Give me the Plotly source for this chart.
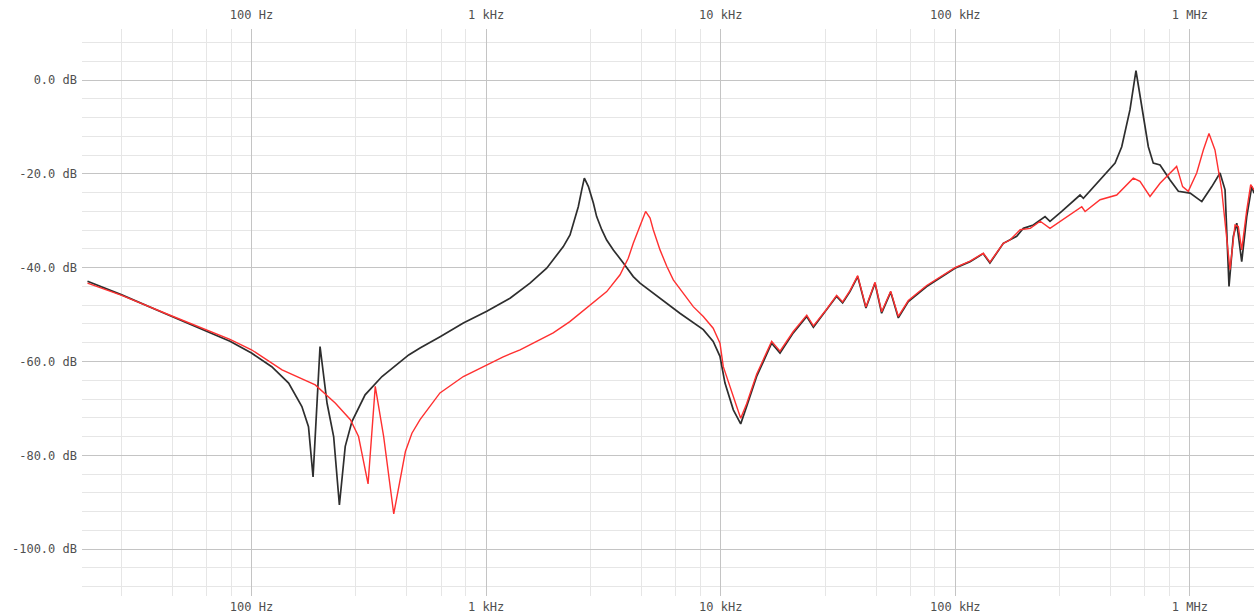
import math
import plotly.graph_objects as go

# ---- data (frequency in Hz, level in dB) ----
black_f = [20, 28, 45.8, 64.5, 81, 100, 122, 144, 164, 175, 183, 196, 210, 224, 237, 251, 268, 305, 360, 468,
           523, 637, 800, 1007, 1265, 1539, 1813, 1932, 2134, 2279, 2393, 2472, 2557, 2623, 2730, 2866, 2960,
           3112, 3266, 3487, 3846, 4240, 4530, 5160, 5890, 6700, 8430,
           9290, 9930, 10430, 11320, 12170, 12900, 14230, 16490, 17900, 20390, 23270, 24840, 28330, 31200,
           33100, 35560, 38370, 41600, 45470, 48530, 53040, 57170, 63060, 75510, 99700, 115600, 131600, 140500,
           160200, 171000, 182700, 195100, 215100, 241300, 253300, 284200, 340300, 351500, 414200, 479900,
           512200, 555500, 589000, 629000, 665000, 698000, 746000, 823000, 893000, 1002000, 1124000, 1240000,
           1344000, 1412000, 1468000, 1531000, 1584000, 1663000, 1747000, 1835000, 1876000]
black_db = [-42.9, -45.8, -50.4, -53.6, -55.7, -58.2, -61.1, -64.6, -69.6, -73.9, -84.6, -56.8, -68.9, -76.0,
            -90.6, -78.1, -72.8, -67.1, -63.2, -58.6, -57.1, -54.7, -51.8, -49.3, -46.5, -43.3, -40.1, -38.3,
            -35.5, -33.0, -29.1, -27.0, -23.4, -20.9, -22.7, -26.2, -29.1,
            -31.9, -34.1, -36.2, -39.0, -41.9, -43.3, -45.4, -47.5, -49.7, -53.2,
            -55.7, -58.9, -64.6, -70.3, -73.3,
            -69.6, -63.2, -56.1, -58.2, -53.9, -50.4, -52.7, -49.0, -46.1, -47.5, -45.1, -41.9, -48.6, -43.3,
            -49.7, -45.2, -50.7, -47.2, -44.0, -40.1, -38.7, -37.0, -39.0, -34.8, -34.1, -33.3, -31.6, -30.9,
            -29.1, -30.1, -28.0, -24.5, -25.2, -21.3, -17.7, -14.2, -6.3, 2.0, -6.3, -14.2, -17.7, -18.1, -21.3,
            -23.7, -24.1, -25.9, -22.7, -19.8, -23.4, -44.0, -33.3, -30.5, -38.7, -29.1, -22.7, -24.1]

red_f = [20, 28, 45.8, 64.5, 81, 100, 135, 187, 228, 264, 286, 314, 337, 366, 404, 453, 483, 523, 636, 800,
         1007, 1183, 1396, 1933, 2275, 2686, 3268, 3724, 4036, 4240, 4529, 4680, 4786, 5000, 5160, 5513, 5890,
         6280, 6930, 7640, 8430, 8990, 9290, 9930, 10260,
         11700, 12170, 12900, 14230, 16490, 17900, 20390, 23270, 24840, 28330, 31200, 33100, 35560, 38370,
         41600, 45470, 48530, 53040, 57170, 63060, 75510, 99700, 115600, 131600, 140500, 160200, 171000, 189000,
         208700, 230200, 253300, 298500, 346000, 357500, 414200, 487600, 573700, 612700, 676000, 746000,
         878000, 931000, 984000, 1069000, 1141000, 1206000, 1279000, 1366000, 1434000, 1482000, 1557000,
         1608000, 1663000, 1747000, 1816000, 1876000]
red_db = [-43.3, -45.9, -50.3, -53.4, -55.3, -57.5, -61.8, -65.0, -68.9, -72.4, -76.0, -86.1, -65.3, -76.0,
          -92.5, -79.2, -75.3, -72.4, -66.7, -63.2, -60.7, -59.0, -57.5, -53.9, -51.5, -48.6, -45.1, -41.5,
          -38.0, -34.8, -31.2, -29.1, -28.0, -29.4, -31.9, -36.2, -39.7,
          -42.6, -45.4, -48.3, -50.4, -52.2, -52.9, -56.1, -61.1,
          -69.6, -72.1, -69.0, -62.7, -55.7,
          -57.8, -53.6, -50.1, -52.4, -48.8, -45.9, -47.3, -44.9, -41.7, -48.4, -43.1, -49.4, -45.0, -50.4,
          -47.0, -43.8, -40.0, -38.6, -36.9, -38.8, -34.8, -34.1, -31.9, -31.6, -30.1, -31.6, -29.1, -27.0,
          -28.0, -25.5, -24.5, -20.9, -21.6, -24.8, -22.0, -18.4, -22.7, -23.7, -19.8, -14.9, -11.4, -14.9,
          -23.4, -33.3, -40.4, -30.9, -31.2, -36.2, -27.7, -22.3, -23.4]

x_tick_vals = [100, 1000, 10000, 100000, 1000000]
x_tick_text = ["100 Hz", "1 kHz", "10 kHz", "100 kHz", "1 MHz"]
y_tick_vals = [0, -20, -40, -60, -80, -100]
y_tick_text = ["0.0 dB", "-20.0 dB", "-40.0 dB", "-60.0 dB", "-80.0 dB", "-100.0 dB"]

# ---- figure ----
x_lo, x_hi = 18.95, 1.876e6
minor_x = [10 ** (n + fr) for n in range(1, 7) for fr in (0.445, 0.662, 0.808, 0.913)]
minor_x = [v for v in minor_x if x_lo < v < x_hi]

font = dict(family="DejaVu Sans Mono", size=12, color="#505050")

fig = go.Figure()
fig.add_trace(go.Scatter(x=black_f, y=black_db, mode="lines", xaxis="x", yaxis="y",
                         line=dict(color="#2e2e2e", width=1.7), showlegend=False, hoverinfo="skip"))
fig.add_trace(go.Scatter(x=red_f, y=red_db, mode="lines", xaxis="x2", yaxis="y",
                         line=dict(color="#ff3030", width=1.4), showlegend=False, hoverinfo="skip"))

xcommon = dict(type="log", range=[math.log10(x_lo), math.log10(x_hi)],
               tickmode="array", tickvals=x_tick_vals, ticktext=x_tick_text,
               ticks="", showline=False, zeroline=False, tickfont=font)

fig.update_layout(
    width=1254, height=616,
    margin=dict(l=82, r=0, t=29, b=20),
    paper_bgcolor="white", plot_bgcolor="white",
    xaxis=dict(**xcommon, side="bottom", showgrid=True, gridcolor="#c4c4c4", gridwidth=1,
               ticklabelstandoff=2,
               minor=dict(tickmode="array", tickvals=minor_x, showgrid=True, gridcolor="#e6e6e6", gridwidth=1)),
    xaxis2=dict(**xcommon, side="top", overlaying="x", matches="x", showgrid=False, ticklabelstandoff=7),
    yaxis=dict(range=[-110, 10.9], tickmode="array", tickvals=y_tick_vals, ticktext=y_tick_text,
               ticks="", showline=False, zeroline=False, tickfont=font, ticklabelstandoff=4,
               showgrid=True, gridcolor="#c4c4c4", gridwidth=1,
               minor=dict(dtick=4, tick0=0, showgrid=True, gridcolor="#e6e6e6", gridwidth=1)),
)

fig.write_html("out.html", config={"displayModeBar": False},
               post_script="document.body.style.margin='0';document.body.style.overflow='hidden';")
